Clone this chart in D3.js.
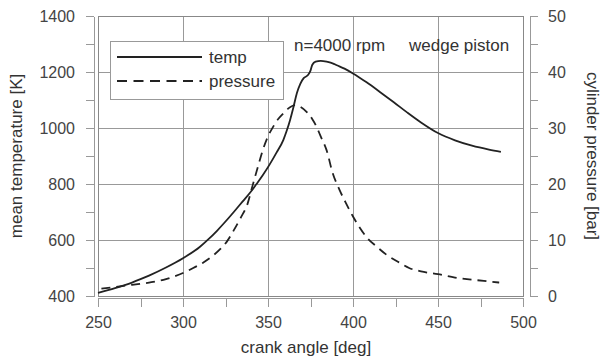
<!DOCTYPE html>
<html>
<head>
<meta charset="utf-8">
<script src="https://cdn.jsdelivr.net/npm/d3@7"></script>
<style>
  body { margin: 0; background: #fff; }
  svg { display: block; font-family: "Liberation Sans", Arial, sans-serif; }
  .axis path, .axis line { stroke: #999; stroke-width: 1; shape-rendering: crispEdges; }
  .axis text { fill: #444; font-size: 16px; }
</style>
</head>
<body>
<div id="chart-container"></div>
<script>
// step 0 the data
const tempAngle = [250, 260, 270, 275, 280, 290, 300, 310, 315, 320, 325, 330, 335, 340, 343, 347, 351, 355, 359, 361, 363, 365, 367, 369, 371, 373.5, 375, 376, 378, 381, 385, 388, 390.5, 395, 400, 408, 416, 424, 432, 440, 450, 460, 470, 480, 487];
const tempValues = [411, 428, 448, 460, 473, 502, 535, 576, 603, 633, 666, 701, 737, 773, 798, 832, 870, 912, 957, 990, 1029, 1075, 1125, 1158, 1178, 1189, 1205, 1225, 1237, 1240, 1236, 1231, 1224, 1212, 1195, 1163, 1128, 1092, 1055, 1020, 982, 956, 937, 923, 915];

const pressAngle = [252, 260, 270, 280, 290, 295, 300, 306, 312, 318, 322, 326, 330, 334, 338, 341, 344, 347, 350, 353, 356, 359, 362, 366, 369, 372.7, 376, 378.6, 381, 384.5, 388, 392, 396, 400, 404, 408, 414, 420, 427, 433, 440, 450, 460, 467, 477, 486];
const pressValues = [1.3, 1.6, 2.0, 2.4, 3.0, 3.5, 4.1, 5.0, 6.0, 7.3, 8.4, 9.8, 11.8, 14.0, 16.5, 19.8, 23.0, 26.1, 28.5, 30.2, 31.6, 32.6, 33.5, 34.1, 33.8, 32.9, 31.6, 30.2, 28.5, 26.0, 22.0, 19.0, 16.5, 14.2, 12.2, 10.5, 8.8, 7.3, 6.0, 5.0, 4.4, 3.9, 3.3, 3.0, 2.7, 2.4];

const xTicks = [250, 275, 300, 325, 350, 375, 400, 425, 450, 475, 500];
const yLeftTicks = [400, 500, 600, 700, 800, 900, 1000, 1100, 1200, 1300, 1400];
const yRightTicks = [0, 5, 10, 15, 20, 25, 30, 35, 40, 45, 50];
const seriesNames = ["temp", "pressure"];

// step 1 svg and plot box
const W = 603, H = 358;
const plot = { left: 98, right: 523, top: 16, bottom: 296 };

const svg = d3.select("#chart-container")
  .append("svg")
  .attr("width", W)
  .attr("height", H);

// step 2 scales
const xScale = d3.scaleLinear().domain([250, 500]).range([plot.left, plot.right]);
const yLeft = d3.scaleLinear().domain([400, 1400]).range([plot.bottom, plot.top]);
const yRight = d3.scaleLinear().domain([0, 50]).range([plot.bottom, plot.top]);

// step 3 grid
svg.append("g")
  .selectAll("line")
  .data([300, 350, 400, 450])
  .enter()
  .append("line")
  .attr("x1", d => xScale(d)).attr("x2", d => xScale(d))
  .attr("y1", plot.top).attr("y2", plot.bottom)
  .attr("stroke", "#999").attr("shape-rendering", "crispEdges");

svg.append("g")
  .selectAll("line")
  .data([600, 800, 1000, 1200])
  .enter()
  .append("line")
  .attr("y1", d => yLeft(d)).attr("y2", d => yLeft(d))
  .attr("x1", plot.left).attr("x2", plot.right)
  .attr("stroke", "#999").attr("shape-rendering", "crispEdges");

svg.append("rect")
  .attr("x", plot.left).attr("y", plot.top)
  .attr("width", plot.right - plot.left)
  .attr("height", plot.bottom - plot.top)
  .attr("fill", "none")
  .attr("stroke", "#888")
  .attr("shape-rendering", "crispEdges");

// step 4 axes (offset a little from the frame, like the original)
svg.append("g")
  .attr("class", "axis")
  .attr("transform", "translate(94,0)")
  .call(d3.axisLeft(yLeft).tickValues(yLeftTicks).tickSize(8).tickSizeOuter(0).tickPadding(11)
    .tickFormat(d => d % 200 === 0 ? d : ""));

svg.append("g")
  .attr("class", "axis")
  .attr("transform", "translate(0,298)")
  .call(d3.axisBottom(xScale).tickValues(xTicks).tickSize(9).tickSizeOuter(0).tickPadding(10)
    .tickFormat(d => d % 50 === 0 ? d : ""));

svg.append("g")
  .attr("class", "axis")
  .attr("transform", "translate(530,0)")
  .call(d3.axisRight(yRight).tickValues(yRightTicks).tickSize(8).tickSizeOuter(0).tickPadding(10)
    .tickFormat(d => d % 10 === 0 ? d : ""));

// step 5 curves
const tempLine = d3.line()
  .x((d, i) => xScale(tempAngle[i]))
  .y(d => yLeft(d))
  .curve(d3.curveMonotoneX);

const pressLine = d3.line()
  .x((d, i) => xScale(pressAngle[i]))
  .y(d => yRight(d))
  .curve(d3.curveMonotoneX);

svg.append("path")
  .attr("d", pressLine(pressValues))
  .attr("fill", "none")
  .attr("stroke", "#222")
  .attr("stroke-width", 1.8)
  .attr("stroke-dasharray", "9,6");

svg.append("path")
  .attr("d", tempLine(tempValues))
  .attr("fill", "none")
  .attr("stroke", "#222")
  .attr("stroke-width", 1.8);

// step 6 legend
const legend = svg.append("g").attr("transform", "translate(110,41)");
legend.append("rect")
  .attr("width", 173).attr("height", 58)
  .attr("fill", "#fff").attr("stroke", "#999")
  .attr("shape-rendering", "crispEdges");

legend.selectAll("line")
  .data(seriesNames)
  .enter()
  .append("line")
  .attr("x1", 7).attr("x2", 92)
  .attr("y1", (d, i) => 16 + i * 24).attr("y2", (d, i) => 16 + i * 24)
  .attr("stroke", "#222").attr("stroke-width", 1.8)
  .attr("stroke-dasharray", (d, i) => i === 1 ? "10,6.5" : null);

legend.selectAll("text")
  .data(seriesNames)
  .enter()
  .append("text")
  .attr("x", 99)
  .attr("y", (d, i) => 22 + i * 24)
  .attr("fill", "#333")
  .style("font-size", "17px")
  .text(d => d);

// step 7 notes and axis titles
svg.append("text").attr("x", 294).attr("y", 51).attr("fill", "#333")
  .style("font-size", "17px").text("n=4000 rpm");
svg.append("text").attr("x", 409).attr("y", 51).attr("fill", "#333")
  .style("font-size", "17px").text("wedge piston");

svg.append("text")
  .attr("x", 306).attr("y", 353)
  .attr("text-anchor", "middle")
  .attr("fill", "#333")
  .style("font-size", "17px")
  .text("crank angle [deg]");

svg.append("text")
  .attr("transform", "translate(22,156) rotate(-90)")
  .attr("text-anchor", "middle")
  .attr("fill", "#333")
  .style("font-size", "17px")
  .text("mean temperature [K]");

svg.append("text")
  .attr("transform", "translate(587,156) rotate(90)")
  .attr("text-anchor", "middle")
  .attr("fill", "#333")
  .style("font-size", "17px")
  .text("cylinder pressure [bar]");
</script>
</body>
</html>
